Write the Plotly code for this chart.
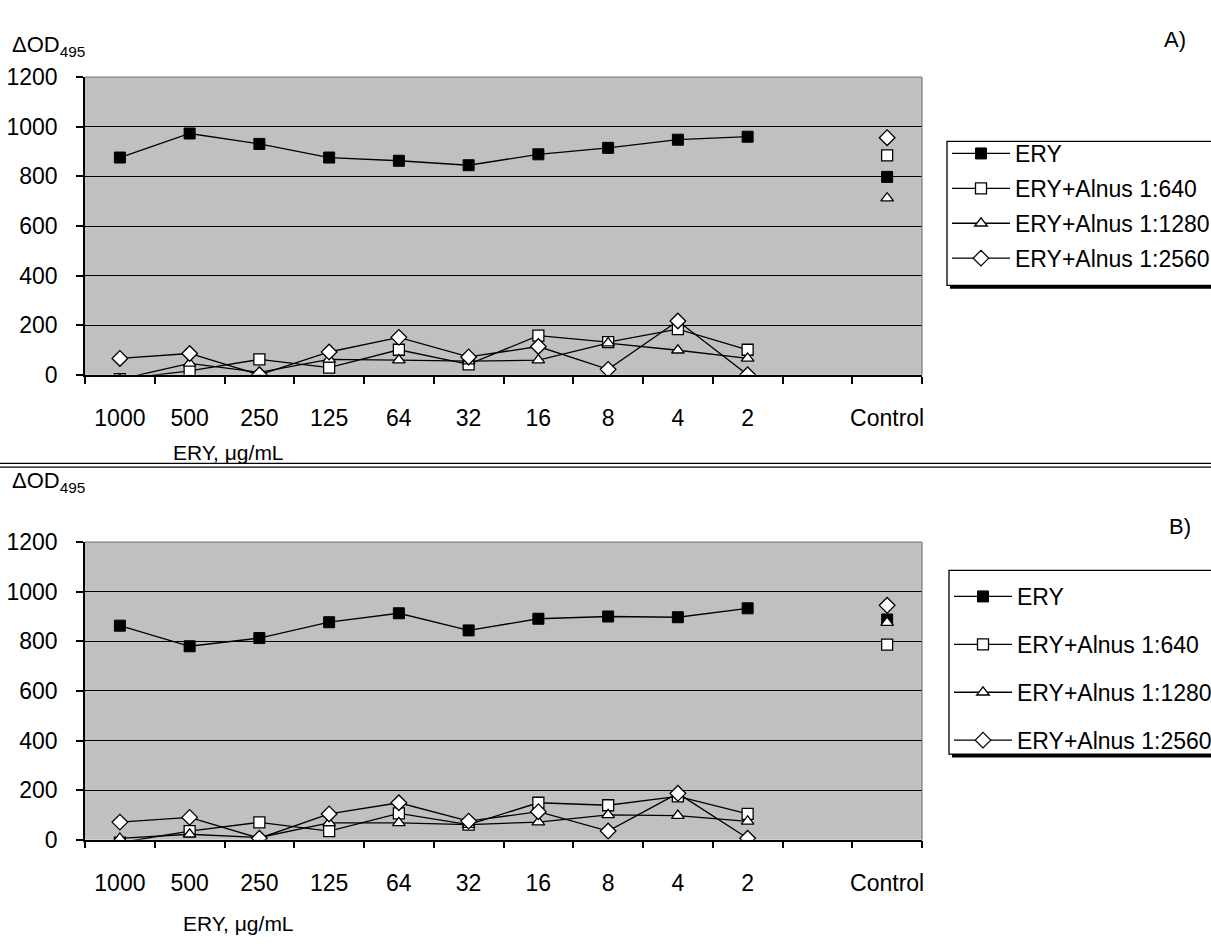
import plotly.graph_objects as go

OFF = 0            # body margin removed by post_script below
W, H = 1240, 949   # figure a bit wider than the window so the legend runs off the edge
PL, PR = 85, 922   # plot area left/right in screen pixels

categories = ["1000", "500", "250", "125", "64", "32", "16", "8", "4", "2", " ", "Control"]
series_names = ["ERY", "ERY+Alnus 1:640", "ERY+Alnus 1:1280", "ERY+Alnus 1:2560"]

# Panel A values (10 doses, blank, control)
a_ery = [876, 973, 931, 876, 863, 845, 889, 915, 948, 960, None, 798]
a_640 = [-18, 16, 62, 29, 101, 42, 158, 132, 184, 101, None, 885]
a_1280 = [-18, 46, 10, 62, 59, 55, 59, 128, 99, 66, None, 712]
a_2560 = [66, 86, 0, 92, 151, 72, 114, 22, 217, 0, None, 956]

# Panel B values
b_ery = [863, 780, 813, 877, 913, 844, 891, 900, 897, 933, None, 888]
b_640 = [-12, 35, 70, 35, 106, 61, 149, 139, 175, 104, None, 787]
b_1280 = [5, 22, 9, 68, 68, 61, 71, 100, 97, 74, None, 875]
b_2560 = [71, 90, 6, 104, 149, 75, 113, 35, 187, 6, None, 945]

y_ticks = [0, 200, 400, 600, 800, 1000, 1200]

FONT = "Liberation Sans, Arial, sans-serif"
styles = [
    dict(symbol="square", color="black", size=11, line=dict(color="black", width=1)),
    dict(symbol="square", color="white", size=11, line=dict(color="black", width=1.3)),
    dict(symbol="triangle-up", color="white", size=11, line=dict(color="black", width=1.3)),
    dict(symbol="diamond", color="white", size=12, line=dict(color="black", width=1.3)),
]

ML = PL - OFF
MR = W - (PR - OFF)


def px_x(s):
    return (s - PL) / (PR - PL)


def px_y(s):
    return 1 - (s - OFF) / H


fig = go.Figure()
panels = [
    ("y", "legend", [a_ery, a_640, a_1280, a_2560]),
    ("y2", "legend2", [b_ery, b_640, b_1280, b_2560]),
]
for yax, leg, data in panels:
    for i, (name, vals) in enumerate(zip(series_names, data)):
        fig.add_trace(go.Scatter(
            x=categories, y=vals, name=name, mode="lines+markers",
            xaxis="x" if yax == "y" else "x2", yaxis=yax,
            line=dict(color="black", width=1.3),
            marker=styles[i], legend=leg, legendgroup=leg + str(i),
            connectgaps=False,
        ))

A_top, A_bot = 66, 372
B_top, B_bot = 544, 850

axis_common = dict(
    showline=True, linecolor="black", linewidth=1.5,
    ticks="outside", ticklen=7, tickcolor="black", tickwidth=1.5,
    tickfont=dict(family=FONT, size=23, color="black"),
)
xcommon = dict(axis_common, type="category", categoryorder="array", categoryarray=categories,
               tickson="boundaries", showgrid=False, range=[-0.5, 11.5], tickangle=0,
               ticklabelstandoff=22)
ycommon = dict(axis_common, range=[0, 1200], tickvals=y_ticks, showgrid=True,
               gridcolor="black", gridwidth=1.3, zeroline=False, ticklabelstandoff=14)

LEG_A = (947, 132, 280)   # left, top, bottom of legend boxes (screen px)
LEG_B = (949, 573, 762)


def legend_cfg(box, gap, dy=0):
    return dict(xref="container", yref="container", x=(box[0] - OFF) / W,
                y=1 - (box[1] + dy - OFF) / H,
                xanchor="left", yanchor="top", bgcolor="rgba(0,0,0,0)", borderwidth=0,
                font=dict(family=FONT, size=23, color="black"),
                tracegroupgap=gap, itemwidth=58)


fig.update_layout(
    width=W, height=H,
    margin=dict(l=ML, r=MR, t=0, b=0),
    paper_bgcolor="white", plot_bgcolor="#c0c0c0",
    font=dict(family=FONT, color="black"),
    xaxis=dict(xcommon, anchor="y", domain=[0, 1]),
    xaxis2=dict(xcommon, anchor="y2", domain=[0, 1]),
    yaxis=dict(ycommon, anchor="x", domain=[px_y(A_bot), px_y(A_top)]),
    yaxis2=dict(ycommon, anchor="x2", domain=[px_y(B_bot), px_y(B_top)]),
    legend=legend_cfg(LEG_A, 2.0),
    legend2=legend_cfg(LEG_B, 15.0, dy=2),
    showlegend=True,
)

shapes = []
for top, bot in [(A_top, A_bot), (B_top, B_bot)]:
    shapes.append(dict(type="line", xref="paper", yref="paper", x0=0, x1=1, y0=px_y(top), y1=px_y(top),
                       line=dict(color="#808080", width=1.3), layer="above"))
    shapes.append(dict(type="line", xref="paper", yref="paper", x0=1, x1=1, y0=px_y(top), y1=px_y(bot),
                       line=dict(color="#808080", width=1.3), layer="above"))
# legend boxes with drop shadow
for left, top, bot in [LEG_A, LEG_B]:
    shapes.append(dict(type="rect", xref="paper", yref="paper", x0=px_x(left + 3), x1=px_x(1300),
                       y0=px_y(bot + 3.5), y1=px_y(top + 3), fillcolor="black",
                       line=dict(width=0), layer="above"))
    shapes.append(dict(type="rect", xref="paper", yref="paper", x0=px_x(left), x1=px_x(1290),
                       y0=px_y(bot), y1=px_y(top), fillcolor="white",
                       line=dict(color="black", width=1.3), layer="above"))
# double separator line
for yy in [463, 467]:
    shapes.append(dict(type="line", xref="paper", yref="paper", x0=px_x(0), x1=px_x(1260),
                       y0=px_y(yy), y1=px_y(yy), line=dict(color="black", width=1.2)))
fig.update_layout(shapes=shapes)


def note(text, sx, sy, size, anchor="center"):
    return dict(text=text, xref="paper", yref="paper", x=px_x(sx), y=px_y(sy),
                xanchor=anchor, yanchor="middle", showarrow=False,
                font=dict(size=size, family=FONT, color="black"))


fig.update_layout(annotations=[
    note("ΔOD<sub>495</sub>", 10, 34, 22, "left"),
    note("ΔOD<sub>495</sub>", 10, 482, 22, "left"),
    note("A)", 1175, 27, 22),
    note("B)", 1180, 528, 22),
    note("ERY, μg/mL", 228, 452, 21),
    note("ERY, μg/mL", 238, 936, 21),
])

fig.write_html(
    "out.html",
    config={"displayModeBar": False},
    post_script=("document.body.style.margin='0';"
                 "document.documentElement.style.overflow='hidden';"
                 "document.body.style.overflow='hidden';"),
)
